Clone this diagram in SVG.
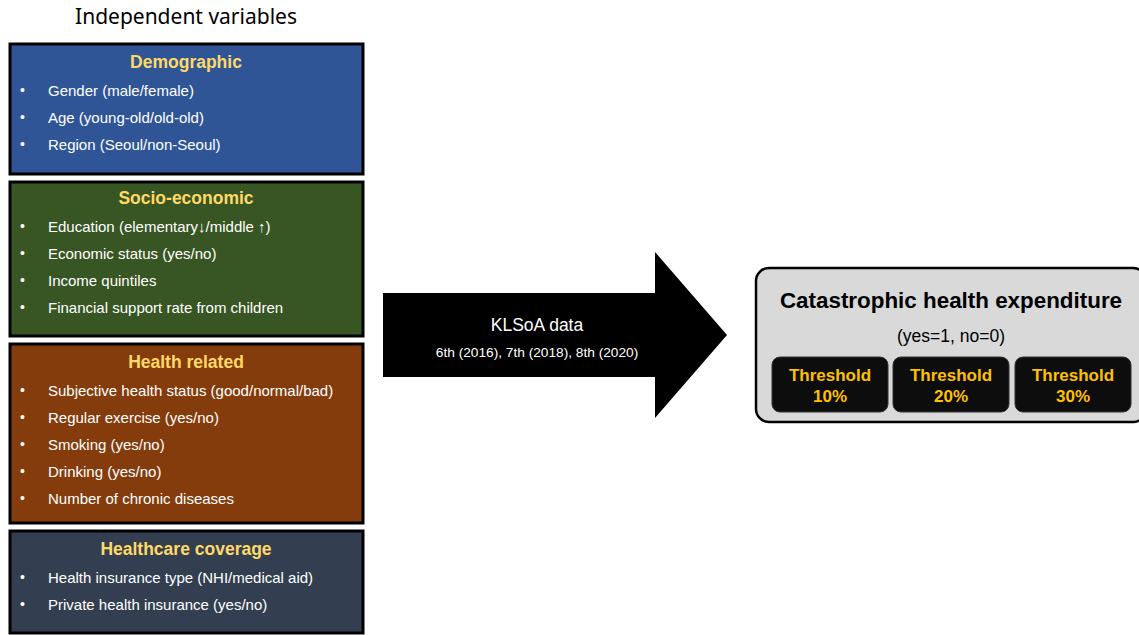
<svg xmlns="http://www.w3.org/2000/svg" width="1139" height="635" viewBox="0 0 1139 635">
<style>
.box{stroke:#000;stroke-width:3}
.ttl{font-family:"Liberation Sans",Arial,sans-serif;font-weight:bold;font-size:17.5px;fill:#FFD966;text-anchor:middle}
.it{font-family:"Liberation Sans",Arial,sans-serif;font-size:15px;fill:#fff}
.bu{font-family:"Liberation Sans",Arial,sans-serif;font-size:14px;fill:#fff}
.th{font-family:"Liberation Sans",Arial,sans-serif;font-weight:bold;font-size:17px;fill:#FFC000;text-anchor:middle}
</style>
<rect width="1139" height="635" fill="#fff"/>
<text x="186" y="24" font-family="'Noto Sans',sans-serif" font-size="21" text-anchor="middle" fill="#000">Independent variables</text>

<g id="demographic">
<rect class="box" x="10" y="44" width="353" height="130" fill="#2F5597"/>
<text class="ttl" x="186" y="68">Demographic</text>
<g class="bu"><text x="20" y="95">•</text><text x="20" y="122">•</text><text x="20" y="149">•</text></g>
<text class="it" x="48" y="96">Gender (male/female)</text>
<text class="it" x="48" y="123">Age (young-old/old-old)</text>
<text class="it" x="48" y="150">Region (Seoul/non-Seoul)</text>
</g>

<g id="socioeconomic">
<rect class="box" x="10" y="182" width="353" height="154" fill="#375623"/>
<text class="ttl" x="186" y="204">Socio-economic</text>
<g class="bu"><text x="20" y="231">•</text><text x="20" y="258">•</text><text x="20" y="285">•</text><text x="20" y="312">•</text></g>
<text class="it" x="48" y="232">Education (elementary↓/middle ↑)</text>
<text class="it" x="48" y="259">Economic status (yes/no)</text>
<text class="it" x="48" y="286">Income quintiles</text>
<text class="it" x="48" y="313">Financial support rate from children</text>
</g>

<g id="health">
<rect class="box" x="10" y="344" width="353" height="179" fill="#843C0C"/>
<text class="ttl" x="186" y="368">Health related</text>
<g class="bu"><text x="20" y="395">•</text><text x="20" y="422">•</text><text x="20" y="449">•</text><text x="20" y="476">•</text><text x="20" y="503">•</text></g>
<text class="it" x="48" y="396">Subjective health status (good/normal/bad)</text>
<text class="it" x="48" y="423">Regular exercise (yes/no)</text>
<text class="it" x="48" y="450">Smoking (yes/no)</text>
<text class="it" x="48" y="477">Drinking (yes/no)</text>
<text class="it" x="48" y="504">Number of chronic diseases</text>
</g>

<g id="coverage">
<rect class="box" x="10" y="531" width="353" height="102" fill="#333F50"/>
<text class="ttl" x="186" y="555">Healthcare coverage</text>
<g class="bu"><text x="20" y="582">•</text><text x="20" y="609">•</text></g>
<text class="it" x="48" y="583">Health insurance type (NHI/medical aid)</text>
<text class="it" x="48" y="610">Private health insurance (yes/no)</text>
</g>

<g id="connectors">
<polygon points="383,293 655,293 655,252 727,335 655,418 655,377 383,377" fill="#000"/>
<text x="537" y="331" font-family="'Liberation Sans',Arial,sans-serif" font-size="17.5" fill="#fff" text-anchor="middle">KLSoA data</text>
<text x="537" y="357" font-family="'Liberation Sans',Arial,sans-serif" font-size="13.7" fill="#fff" text-anchor="middle">6th (2016), 7th (2018), 8th (2020)</text>
</g>

<g id="outcome">
<rect x="756" y="268" width="390" height="154" rx="13" fill="#D9D9D9" stroke="#000" stroke-width="2.5"/>
<text x="951" y="308" font-family="'Liberation Sans',Arial,sans-serif" font-weight="bold" font-size="22.4" text-anchor="middle" fill="#000">Catastrophic health expenditure</text>
<text x="951" y="342" font-family="'Liberation Sans',Arial,sans-serif" font-size="17.5" text-anchor="middle" fill="#000">(yes=1, no=0)</text>
</g>
<g id="t10">
<rect x="772" y="357" width="116" height="55" rx="8" fill="#0D0D0D" stroke="#333" stroke-width="1"/>
<text class="th" x="830" y="381">Threshold</text><text class="th" x="830" y="402">10%</text>
</g>
<g id="t20">
<rect x="893" y="357" width="116" height="55" rx="8" fill="#0D0D0D" stroke="#333" stroke-width="1"/>
<text class="th" x="951" y="381">Threshold</text><text class="th" x="951" y="402">20%</text>
</g>
<g id="t30">
<rect x="1015" y="357" width="116" height="55" rx="8" fill="#0D0D0D" stroke="#333" stroke-width="1"/>
<text class="th" x="1073" y="381">Threshold</text><text class="th" x="1073" y="402">30%</text>
</g>
</svg>
